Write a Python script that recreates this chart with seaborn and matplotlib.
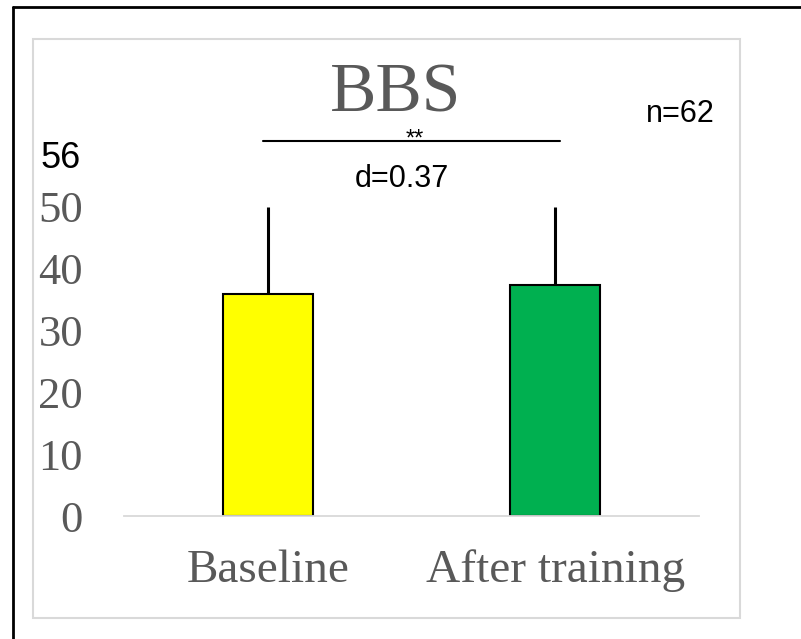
import matplotlib
matplotlib.use("Agg")
import matplotlib.pyplot as plt
from matplotlib.lines import Line2D
from matplotlib.patches import Rectangle
import seaborn as sns
import pandas as pd

# Berg Balance Scale scores, mean with upward SD bar
categories = ["Baseline", "After training"]
means = [35.9, 37.4]
sd_up = [14.1, 12.6]
bar_colors = ["#FFFF00", "#00B050"]
yticks = [0, 10, 20, 30, 40, 50]

title_text = "BBS"
n_text = "n=62"
max_text = "56"
sig_text = "**"
effect_text = "d=0.37"

sns.set_theme(style="white")
plt.rcParams["font.family"] = ["Liberation Serif", "DejaVu Serif"]

W, H = 801, 639
fig = plt.figure(figsize=(W / 100, H / 100), dpi=100)
fig.patch.set_facecolor("white")


def fx(x):
    return x / W


def fy(y):
    return 1 - y / H


ax = fig.add_axes([fx(124), fy(516), (699 - 124) / W, (516 - 207) / H])

df = pd.DataFrame({"group": categories, "score": means})
sns.barplot(data=df, x="group", y="score", hue="group", palette=bar_colors,
            legend=False, width=0.313, edgecolor="black", linewidth=1.5,
            saturation=1, ax=ax, zorder=2)
ax.errorbar(range(len(categories)), means, yerr=[[0] * len(sd_up), sd_up],
            fmt="none", ecolor="black", elinewidth=2.2, capsize=0, zorder=3)

ax.set_xlim(-0.5, 1.5)
ax.set_ylim(0, 50)
ax.set_yticks(yticks)
ax.set_yticklabels([str(v) for v in yticks])
ax.set_xlabel("")
ax.set_ylabel("")
for side in ["top", "right", "left"]:
    ax.spines[side].set_visible(False)
ax.spines["bottom"].set_color("#D9D9D9")
ax.spines["bottom"].set_linewidth(1.3)
ax.tick_params(axis="y", length=0, pad=29.5, labelsize=32, labelcolor="#595959")
ax.tick_params(axis="x", length=0, pad=24, labelsize=34, labelcolor="#595959")
ax.set_facecolor("white")

# chart area frame and outer border
fig.add_artist(Rectangle((fx(33), fy(618)), (740 - 33) / W, (618 - 39) / H,
                         transform=fig.transFigure, fill=False,
                         edgecolor="#D9D9D9", linewidth=1.5))
fig.add_artist(Line2D([fx(13), fx(801)], [fy(7), fy(7)],
                      transform=fig.transFigure, color="black", linewidth=2))
fig.add_artist(Line2D([fx(13), fx(13)], [fy(7), fy(639)],
                      transform=fig.transFigure, color="black", linewidth=2))

# title and annotations
fig.text(fx(396), fy(111), title_text, ha="center", va="baseline",
         fontsize=50, color="#595959", family=["Liberation Serif"])
sans = ["Liberation Sans", "DejaVu Sans"]
fig.text(fx(40), fy(168), max_text, ha="left", va="baseline",
         fontsize=26, color="black", family=sans)
fig.text(fx(680), fy(122), n_text, ha="center", va="baseline",
         fontsize=22, color="black", family=sans)
fig.add_artist(Line2D([fx(263), fx(560)], [fy(141), fy(141)],
                      transform=fig.transFigure, color="black", linewidth=1.5))
fig.text(fx(415), fy(146), sig_text, ha="center", va="baseline",
         fontsize=17, color="black", family=sans)
fig.text(fx(402), fy(187), effect_text, ha="center", va="baseline",
         fontsize=22, color="black", family=sans)

fig.savefig("out.png", dpi=100, facecolor="white")
